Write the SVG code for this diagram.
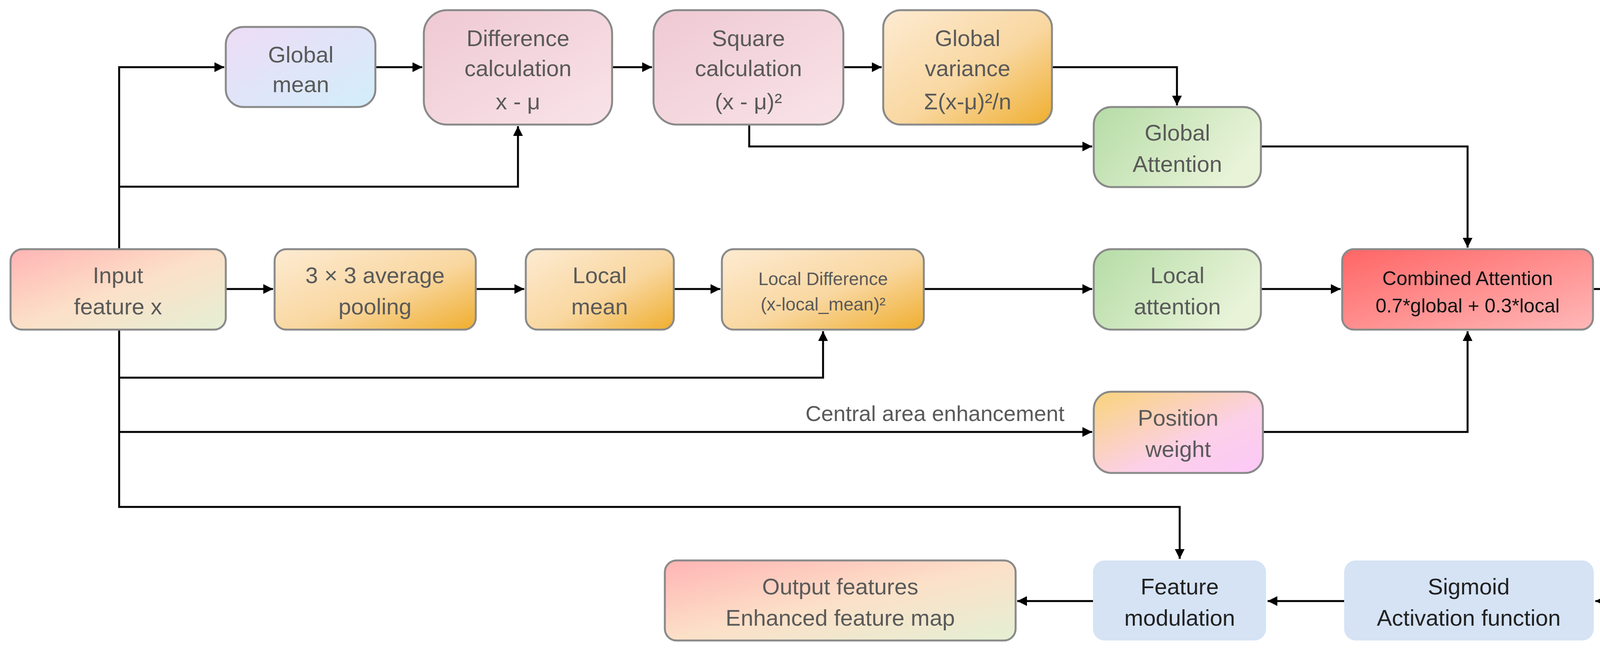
<svg xmlns="http://www.w3.org/2000/svg" width="4190" height="1672" viewBox="0 0 4190 1672">
<defs>
<linearGradient id="gPurple" x1="0" y1="0" x2="1" y2="1"><stop offset="0" stop-color="#eedcf6"/><stop offset="1" stop-color="#d2eefb"/></linearGradient>
<linearGradient id="gPink" x1="0" y1="0" x2="1" y2="1"><stop offset="0" stop-color="#efc9d3"/><stop offset="1" stop-color="#f9e4e8"/></linearGradient>
<linearGradient id="gOrange" x1="0" y1="0" x2="1" y2="1"><stop offset="0" stop-color="#fdebd2"/><stop offset="0.55" stop-color="#f9d7a0"/><stop offset="1" stop-color="#efae2e"/></linearGradient>
<linearGradient id="gGreen" x1="0" y1="0" x2="1" y2="0.4"><stop offset="0" stop-color="#b5dca6"/><stop offset="1" stop-color="#e8f3d8"/></linearGradient>
<linearGradient id="gRed" x1="0" y1="0" x2="1" y2="1"><stop offset="0" stop-color="#ff6565"/><stop offset="1" stop-color="#ffb8b8"/></linearGradient>
<linearGradient id="gPos" x1="0" y1="0" x2="1" y2="1"><stop offset="0" stop-color="#f9d47a"/><stop offset="0.6" stop-color="#fcd0e8"/><stop offset="1" stop-color="#fcc8f8"/></linearGradient>
<linearGradient id="gIO" x1="0" y1="0" x2="1" y2="1"><stop offset="0" stop-color="#ffb4b4"/><stop offset="0.5" stop-color="#fce0c8"/><stop offset="1" stop-color="#e4f0d4"/></linearGradient>
<marker id="arr" viewBox="0 0 10 10" refX="10" refY="5" markerWidth="5" markerHeight="5" orient="auto" markerUnits="strokeWidth"><path d="M0,0 L10,5 L0,10 z" fill="#000"/></marker>
<style>
.box{stroke:#8a8a8a;stroke-width:5}
.t{font-family:"Liberation Sans",Arial,sans-serif;font-size:58px;fill:#5a5a5a;text-anchor:middle}
.tk{fill:#111}
.c{fill:none;stroke:#000;stroke-width:5}
</style>
</defs>
<g id="connectors">
<path class="c" d="M305,638 V172 H574" marker-end="url(#arr)"/>
<path class="c" d="M305,478 H1326 V323" marker-end="url(#arr)"/>
<path class="c" d="M961,172 H1081" marker-end="url(#arr)"/>
<path class="c" d="M1567,172 H1669" marker-end="url(#arr)"/>
<path class="c" d="M2159,172 H2257" marker-end="url(#arr)"/>
<path class="c" d="M2693,172 H3013 V270" marker-end="url(#arr)"/>
<path class="c" d="M1918,319 V375 H2796" marker-end="url(#arr)"/>
<path class="c" d="M3228,375 H3757 V634" marker-end="url(#arr)"/>
<path class="c" d="M578,740 H699" marker-end="url(#arr)"/>
<path class="c" d="M1218,740 H1342" marker-end="url(#arr)"/>
<path class="c" d="M1725,740 H1844" marker-end="url(#arr)"/>
<path class="c" d="M2365,740 H2796" marker-end="url(#arr)"/>
<path class="c" d="M3228,740 H3432" marker-end="url(#arr)"/>
<path class="c" d="M305,844 V1298 H3020 V1431" marker-end="url(#arr)"/>
<path class="c" d="M305,967 H2107 V848" marker-end="url(#arr)"/>
<path class="c" d="M305,1106 H2796" marker-end="url(#arr)"/>
<path class="c" d="M3233,1106 H3757 V848" marker-end="url(#arr)"/>
<path class="c" d="M4078,740 H4163 V1539 H4084" marker-end="url(#arr)"/>
<path class="c" d="M3441,1539 H3245" marker-end="url(#arr)"/>
<path class="c" d="M2798,1539 H2604" marker-end="url(#arr)"/>
<text class="t" x="2725" y="1078" style="text-anchor:end;font-size:56px">Central area enhancement</text>
</g>
<g id="global-mean"><rect class="box" x="578" y="69" width="383" height="205" rx="45" fill="url(#gPurple)"/><text class="t" x="770" y="160">Global</text><text class="t" x="770" y="236">mean</text></g>
<g id="difference"><rect class="box" x="1085" y="26" width="482" height="293" rx="60" fill="url(#gPink)"/><text class="t" x="1326" y="118">Difference</text><text class="t" x="1326" y="195">calculation</text><text class="t" x="1326" y="280">x - μ</text></g>
<g id="square"><rect class="box" x="1673" y="26" width="486" height="293" rx="60" fill="url(#gPink)"/><text class="t" x="1916" y="118">Square</text><text class="t" x="1916" y="195">calculation</text><text class="t" x="1916" y="280">(x - μ)²</text></g>
<g id="global-variance"><rect class="box" x="2261" y="26" width="432" height="293" rx="45" fill="url(#gOrange)"/><text class="t" x="2477" y="118">Global</text><text class="t" x="2477" y="195">variance</text><text class="t" x="2477" y="280">Σ(x-μ)²/n</text></g>
<g id="global-attention"><rect class="box" x="2800" y="274" width="428" height="205" rx="45" fill="url(#gGreen)"/><text class="t" x="3014" y="360">Global</text><text class="t" x="3014" y="440">Attention</text></g>
<g id="input"><rect class="box" x="27" y="638" width="551" height="206" rx="30" fill="url(#gIO)"/><text class="t" x="302" y="725">Input</text><text class="t" x="302" y="805">feature x</text></g>
<g id="pooling"><rect class="box" x="703" y="638" width="515" height="206" rx="30" fill="url(#gOrange)"/><text class="t" x="960" y="725">3 × 3 average</text><text class="t" x="960" y="805">pooling</text></g>
<g id="local-mean"><rect class="box" x="1346" y="638" width="379" height="206" rx="30" fill="url(#gOrange)"/><text class="t" x="1535" y="725">Local</text><text class="t" x="1535" y="805">mean</text></g>
<g id="local-difference"><rect class="box" x="1848" y="638" width="517" height="206" rx="30" fill="url(#gOrange)"/><text class="t" x="2107" y="730" style="font-size:46px">Local Difference</text><text class="t" x="2107" y="795" style="font-size:46px">(x-local_mean)²</text></g>
<g id="local-attention"><rect class="box" x="2800" y="638" width="428" height="206" rx="45" fill="url(#gGreen)"/><text class="t" x="3014" y="725">Local</text><text class="t" x="3014" y="805">attention</text></g>
<g id="combined"><rect class="box" x="3436" y="638" width="642" height="206" rx="30" fill="url(#gRed)"/><text class="t tk" x="3757" y="730" style="font-size:50px">Combined Attention</text><text class="t tk" x="3757" y="800" style="font-size:50px">0.7*global + 0.3*local</text></g>
<g id="position-weight"><rect class="box" x="2800" y="1003" width="433" height="208" rx="45" fill="url(#gPos)"/><text class="t" x="3016" y="1090">Position</text><text class="t" x="3016" y="1170">weight</text></g>
<g id="output"><rect class="box" x="1702" y="1435" width="898" height="205" rx="30" fill="url(#gIO)"/><text class="t" x="2151" y="1522">Output features</text><text class="t" x="2151" y="1602">Enhanced feature map</text></g>
<g id="feature-modulation"><rect x="2798" y="1435" width="443" height="205" rx="30" fill="#d5e3f5"/><text class="t tk" x="3020" y="1522" style="fill:#222">Feature</text><text class="t tk" x="3020" y="1602" style="fill:#222">modulation</text></g>
<g id="sigmoid"><rect x="3441" y="1435" width="639" height="205" rx="30" fill="#d5e3f5"/><text class="t tk" x="3760" y="1522" style="fill:#222">Sigmoid</text><text class="t tk" x="3760" y="1602" style="fill:#222">Activation function</text></g>
</svg>
